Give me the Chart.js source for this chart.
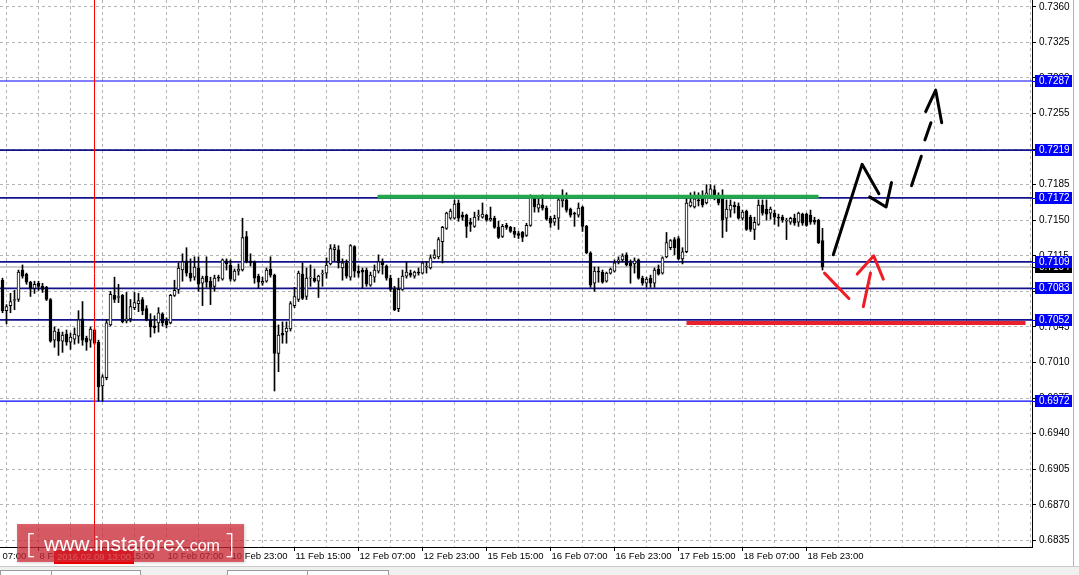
<!DOCTYPE html>
<html>
<head>
<meta charset="utf-8">
<script src="https://cdn.jsdelivr.net/npm/chart.js@4.4.1/dist/chart.umd.min.js"></script>
<style>
  html, body { margin: 0; padding: 0; background: #fff; overflow: hidden; }
  #wrap { width: 1079px; height: 575px; position: relative; }
</style>
</head>
<body>
<div id="wrap"><canvas id="chartAud" width="1079" height="575"></canvas></div>
<script>
// H1 bars, 8 Feb 14:00 .. 19 Feb 03:00 (one entry per bar)
const opens = [
  0.7091,0.7061,0.7066,0.7071,0.7072,0.7101,0.7097,0.7089,0.7083,0.7088,
  0.7085,0.7084,0.7072,0.7032,0.7040,0.7031,0.7038,0.7030,0.7033,0.7036,
  0.7053,0.7034,0.7032,0.7042,0.7030,0.6987,0.6995,0.7047,0.7076,0.7074,
  0.7076,0.7051,0.7053,0.7064,0.7068,0.7072,0.7063,0.7052,0.7046,0.7049,
  0.7058,0.7051,0.7049,0.7076,0.7082,0.7101,0.7110,0.7098,0.7094,0.7103,
  0.7088,0.7095,0.7090,0.7085,0.7094,0.7092,0.7110,0.7106,0.7091,0.7100,
  0.7101,0.7134,0.7110,0.7109,0.7095,0.7088,0.7090,0.7102,0.7096,0.7019,
  0.7039,0.7040,0.7043,0.7066,0.7072,0.7097,0.7075,0.7093,0.7093,0.7090,
  0.7097,0.7098,0.7107,0.7121,0.7121,0.7103,0.7108,0.7094,0.7124,0.7100,
  0.7101,0.7101,0.7086,0.7094,0.7100,0.7109,0.7105,0.7093,0.7082,0.7063,
  0.7082,0.7095,0.7098,0.7095,0.7099,0.7098,0.7104,0.7103,0.7113,0.7114,
  0.7129,0.7142,0.7152,0.7152,0.7167,0.7155,0.7155,0.7148,0.7144,0.7154,
  0.7153,0.7155,0.7150,0.7152,0.7143,0.7134,0.7145,0.7143,0.7139,0.7137,
  0.7138,0.7135,0.7145,0.7172,0.7162,0.7165,0.7162,0.7152,0.7148,0.7152,
  0.7169,0.7170,0.7161,0.7157,0.7155,0.7163,0.7144,0.7118,0.7088,0.7100,
  0.7099,0.7090,0.7098,0.7100,0.7110,0.7111,0.7116,0.7108,0.7107,0.7111,
  0.7093,0.7088,0.7093,0.7088,0.7102,0.7098,0.7114,0.7123,0.7131,0.7132,
  0.7112,0.7119,0.7164,0.7163,0.7170,0.7171,0.7167,0.7174,0.7180,0.7173,
  0.7173,0.7152,0.7160,0.7165,0.7164,0.7152,0.7159,0.7153,0.7141,0.7146,
  0.7165,0.7161,0.7157,0.7157,0.7153,0.7153,0.7149,0.7148,0.7152,0.7148,
  0.7156,0.7156,0.7155,0.7150,0.7150,0.7130
];
const highs = [
  0.7093,0.7067,0.7078,0.7081,0.7101,0.7106,0.7098,0.7090,0.7090,0.7090,
  0.7088,0.7085,0.7073,0.7045,0.7043,0.7040,0.7042,0.7039,0.7044,0.7061,
  0.7070,0.7036,0.7045,0.7043,0.7032,0.6998,0.7052,0.7080,0.7094,0.7087,
  0.7077,0.7079,0.7072,0.7079,0.7078,0.7074,0.7066,0.7058,0.7056,0.7064,
  0.7059,0.7054,0.7077,0.7091,0.7108,0.7117,0.7123,0.7112,0.7114,0.7114,
  0.7095,0.7114,0.7094,0.7096,0.7096,0.7112,0.7112,0.7111,0.7102,0.7107,
  0.7152,0.7139,0.7117,0.7110,0.7097,0.7094,0.7103,0.7114,0.7097,0.7047,
  0.7050,0.7050,0.7070,0.7084,0.7100,0.7108,0.7103,0.7106,0.7102,0.7096,
  0.7101,0.7113,0.7126,0.7126,0.7125,0.7112,0.7111,0.7126,0.7125,0.7105,
  0.7103,0.7103,0.7099,0.7106,0.7116,0.7112,0.7106,0.7096,0.7085,0.7093,
  0.7101,0.7109,0.7101,0.7100,0.7103,0.7109,0.7109,0.7116,0.7121,0.7133,
  0.7144,0.7158,0.7161,0.7170,0.7170,0.7158,0.7156,0.7152,0.7158,0.7160,
  0.7167,0.7156,0.7163,0.7154,0.7149,0.7146,0.7147,0.7144,0.7143,0.7139,
  0.7139,0.7147,0.7175,0.7174,0.7172,0.7175,0.7164,0.7154,0.7155,0.7172,
  0.7180,0.7177,0.7162,0.7158,0.7167,0.7164,0.7145,0.7119,0.7104,0.7104,
  0.7101,0.7099,0.7103,0.7111,0.7114,0.7117,0.7118,0.7111,0.7113,0.7112,
  0.7095,0.7094,0.7096,0.7103,0.7106,0.7114,0.7138,0.7131,0.7133,0.7134,
  0.7123,0.7172,0.7177,0.7178,0.7177,0.7179,0.7185,0.7185,0.7184,0.7177,
  0.7180,0.7170,0.7170,0.7168,0.7167,0.7160,0.7160,0.7155,0.7153,0.7170,
  0.7170,0.7170,0.7163,0.7160,0.7156,0.7155,0.7152,0.7153,0.7156,0.7158,
  0.7157,0.7157,0.7160,0.7153,0.7151,0.7142
];
const lows = [
  0.7059,0.7048,0.7059,0.7062,0.7070,0.7093,0.7087,0.7075,0.7078,0.7081,
  0.7079,0.7071,0.7030,0.7025,0.7017,0.7020,0.7027,0.7023,0.7028,0.7029,
  0.7027,0.7022,0.7025,0.7028,0.6972,0.6972,0.6993,0.7046,0.7069,0.7069,
  0.7049,0.7049,0.7050,0.7062,0.7060,0.7057,0.7051,0.7035,0.7039,0.7040,
  0.7046,0.7044,0.7048,0.7075,0.7078,0.7090,0.7095,0.7090,0.7091,0.7080,
  0.7066,0.7084,0.7067,0.7080,0.7090,0.7091,0.7101,0.7090,0.7090,0.7096,
  0.7100,0.7108,0.7105,0.7088,0.7083,0.7086,0.7089,0.7094,0.6982,0.7001,
  0.7029,0.7029,0.7041,0.7064,0.7070,0.7072,0.7072,0.7085,0.7089,0.7074,
  0.7085,0.7093,0.7106,0.7110,0.7103,0.7091,0.7093,0.7091,0.7094,0.7094,
  0.7083,0.7085,0.7085,0.7089,0.7098,0.7097,0.7091,0.7080,0.7061,0.7060,
  0.7081,0.7093,0.7094,0.7093,0.7096,0.7097,0.7098,0.7102,0.7112,0.7112,
  0.7108,0.7141,0.7151,0.7151,0.7149,0.7150,0.7133,0.7139,0.7143,0.7150,
  0.7152,0.7149,0.7149,0.7142,0.7132,0.7133,0.7141,0.7138,0.7133,0.7132,
  0.7129,0.7134,0.7144,0.7158,0.7158,0.7160,0.7150,0.7143,0.7145,0.7141,
  0.7163,0.7158,0.7153,0.7144,0.7153,0.7139,0.7117,0.7084,0.7080,0.7089,
  0.7088,0.7089,0.7097,0.7099,0.7107,0.7109,0.7105,0.7088,0.7098,0.7092,
  0.7086,0.7084,0.7084,0.7084,0.7096,0.7097,0.7113,0.7121,0.7116,0.7111,
  0.7107,0.7118,0.7163,0.7162,0.7164,0.7163,0.7166,0.7173,0.7170,0.7165,
  0.7133,0.7139,0.7153,0.7157,0.7151,0.7150,0.7140,0.7139,0.7131,0.7145,
  0.7155,0.7150,0.7151,0.7146,0.7144,0.7148,0.7131,0.7146,0.7145,0.7144,
  0.7145,0.7144,0.7146,0.7146,0.7127,0.7101
];
const closes = [
  0.7061,0.7065,0.7070,0.7072,0.7099,0.7095,0.7089,0.7083,0.7087,0.7085,
  0.7082,0.7072,0.7031,0.7041,0.7031,0.7037,0.7030,0.7035,0.7038,0.7052,
  0.7032,0.7030,0.7043,0.7029,0.6986,0.6996,0.7049,0.7077,0.7072,0.7075,
  0.7050,0.7053,0.7065,0.7069,0.7071,0.7061,0.7052,0.7045,0.7044,0.7059,
  0.7049,0.7047,0.7076,0.7081,0.7103,0.7109,0.7098,0.7093,0.7104,0.7087,
  0.7093,0.7089,0.7084,0.7093,0.7093,0.7111,0.7107,0.7092,0.7100,0.7102,
  0.7133,0.7109,0.7108,0.7093,0.7089,0.7090,0.7101,0.7096,0.7019,0.7037,
  0.7037,0.7044,0.7068,0.7075,0.7098,0.7073,0.7093,0.7094,0.7090,0.7095,
  0.7098,0.7106,0.7122,0.7123,0.7108,0.7108,0.7095,0.7125,0.7100,0.7098,
  0.7099,0.7087,0.7096,0.7101,0.7109,0.7106,0.7093,0.7082,0.7062,0.7082,
  0.7095,0.7099,0.7096,0.7099,0.7098,0.7108,0.7105,0.7113,0.7116,0.7131,
  0.7143,0.7157,0.7159,0.7166,0.7152,0.7153,0.7144,0.7146,0.7153,0.7155,
  0.7156,0.7150,0.7152,0.7143,0.7133,0.7144,0.7143,0.7139,0.7136,0.7135,
  0.7133,0.7145,0.7173,0.7163,0.7166,0.7162,0.7151,0.7147,0.7152,0.7170,
  0.7171,0.7160,0.7155,0.7156,0.7162,0.7144,0.7118,0.7086,0.7100,0.7099,
  0.7089,0.7098,0.7102,0.7108,0.7111,0.7115,0.7106,0.7105,0.7110,0.7093,
  0.7088,0.7092,0.7088,0.7101,0.7097,0.7113,0.7128,0.7130,0.7123,0.7112,
  0.7119,0.7167,0.7168,0.7171,0.7169,0.7165,0.7177,0.7181,0.7172,0.7167,
  0.7150,0.7161,0.7165,0.7163,0.7152,0.7158,0.7141,0.7141,0.7148,0.7165,
  0.7157,0.7156,0.7161,0.7153,0.7152,0.7150,0.7150,0.7152,0.7147,0.7157,
  0.7147,0.7145,0.7148,0.7148,0.7128,0.7104
];

// time axis labels and the bar they sit on
const labelBars = [-7, 9, 25, 41, 57, 73, 89, 105, 121, 137, 153, 169, 185, 201];
const timeLabels = ["8 Feb 07:00", "8 Feb 23:00", "9 Feb 15:00", "10 Feb 07:00", "10 Feb 23:00",
  "11 Feb 15:00", "12 Feb 07:00", "12 Feb 23:00", "15 Feb 15:00", "16 Feb 07:00",
  "16 Feb 23:00", "17 Feb 15:00", "18 Feb 07:00", "18 Feb 23:00"];

// price axis
const priceTicks = [0.6835, 0.6870, 0.6905, 0.6940, 0.6975, 0.7010, 0.7045, 0.7080,
  0.7115, 0.7150, 0.7185, 0.7220, 0.7255, 0.7290, 0.7325, 0.7360];
const levelPrices = [0.7287, 0.7219, 0.7172, 0.7109, 0.7083, 0.7052, 0.6972];
const currentPrice = 0.7104;
const markedBar = 23;             // 2016.02.09 13:00
const markedLabel = "2016.02.09 13:00";

// drawn analysis marks: [bar, price]
const resistanceLine = [[93.75, 0.7173], [204, 0.7173]];
const supportLine = [[171, 0.7049], [255.75, 0.7049]];
const blackPathA = [[207.7, 0.7116], [214.9, 0.7205], [219.1, 0.7176]];
const blackPathB = [[216.8, 0.7173], [220.9, 0.7163], [222.25, 0.7187]];
const blackDash1 = [[227.25, 0.7184], [229.7, 0.7213]];
const blackDash2 = [[230.6, 0.7229], [232.1, 0.7246]];
const blackHead = [[230.8, 0.7257], [233.3, 0.7278], [234.8, 0.7246]];
const redPathA = [[205.5, 0.7098], [211.6, 0.7073]];
const redPathB = [[215.2, 0.7065], [217, 0.7098]];
const redHead = [[213.7, 0.7097], [217.8, 0.7115], [220.2, 0.7092]];

const X_MIN = -0.625, X_MAX = 257.375;
const Y_MIN = 0.68285, Y_MAX = 0.73667;
const FONT_Y = { family: "'Liberation Sans', Arial, sans-serif", size: 10 };
const FONT_X = { family: "'Liberation Sans', Arial, sans-serif", size: 9.5 };

const toPts = arr => arr.map(p => ({ x: p[0], y: p[1] }));

function stroke(points, color, width) {
  return {
    type: "line", data: toPts(points), borderColor: color, borderWidth: width,
    pointRadius: 0, fill: false, tension: 0, order: 0,
    borderCapStyle: "round", borderJoinStyle: "round"
  };
}

const levelSets = levelPrices.map((p, k) => ({
  type: "line",
  data: [{ x: X_MIN, y: p }, { x: X_MAX, y: p }],
  borderColor: (k === 0 || k === levelPrices.length - 1) ? "#0000ff" : "#12128a",
  borderWidth: (k === 0 || k === levelPrices.length - 1) ? 1.2 : 1.7,
  pointRadius: 0, fill: false, order: 4
}));

const bodies = closes.map((c, i) => ({ x: i, y: [opens[i], c] }));
const wicks = highs.map((h, i) => ({ x: i, y: [lows[i], h] }));

const overlay = {
  id: "overlay",
  afterDraw(chart) {
    const ctx = chart.ctx;
    const ys = chart.scales.y;
    const xs = chart.scales.x;
    const fontStr = "10px 'Liberation Sans', Arial, sans-serif";

    function tag(price, bg, line) {
      const y = Math.round(ys.getPixelForValue(price));
      ctx.fillStyle = line;
      ctx.fillRect(ys.left, y, 4, 1);
      ctx.fillStyle = bg;
      ctx.fillRect(ys.left + 3, y - 6, 37, 12);
      ctx.fillStyle = "#ffffff";
      ctx.font = fontStr;
      ctx.textBaseline = "middle";
      ctx.textAlign = "left";
      ctx.fillText(price.toFixed(4), ys.left + 7, y + 0.5);
    }
    ctx.save();
    tag(currentPrice, "#000000", "#000000");
    levelPrices.forEach(p => tag(p, "#0000ff", "#0000ff"));

    // date tag of the vertical line
    const vx = Math.round(xs.getPixelForValue(markedBar));
    ctx.fillStyle = "#ff0000";
    ctx.fillRect(vx - 41, 550, 80, 14);
    ctx.fillStyle = "#ffffff";
    ctx.font = "9.5px 'Liberation Sans', Arial, sans-serif";
    ctx.textBaseline = "middle";
    ctx.fillText(markedLabel, vx - 38, 557.5);

    // watermark
    ctx.shadowColor = "rgba(0,0,0,0.25)";
    ctx.shadowBlur = 3;
    ctx.shadowOffsetX = 1;
    ctx.shadowOffsetY = 1;
    ctx.fillStyle = "rgba(214, 42, 54, 0.72)";
    ctx.fillRect(17, 524, 227, 38);
    ctx.shadowColor = "transparent";
    ctx.fillStyle = "#ffffff";
    ctx.textBaseline = "alphabetic";
    ctx.font = "300 27px 'Open Sans', 'Liberation Sans', sans-serif";
    ctx.fillText("[", 26, 553);
    ctx.font = "21px 'Liberation Sans', Arial, sans-serif";
    ctx.fillText("www.instaforex", 44, 551);
    const w1 = ctx.measureText("www.instaforex").width;
    ctx.font = "16px 'Liberation Sans', Arial, sans-serif";
    ctx.fillText(".com", 44 + w1, 551);
    ctx.font = "300 27px 'Open Sans', 'Liberation Sans', sans-serif";
    ctx.fillText("]", 226, 553);

    // terminal tabs strip
    ctx.fillStyle = "#f0f0f0";
    ctx.fillRect(0, 566, 1079, 9);
    ctx.fillStyle = "#c8c8c8";
    ctx.fillRect(0, 566, 1079, 1);
    ctx.strokeStyle = "#9a9a9a";
    ctx.lineWidth = 1;
    [[0, 51], [51, 140], [227, 307], [307, 388]].forEach(t => {
      ctx.fillStyle = "#ffffff";
      ctx.fillRect(t[0], 570, t[1] - t[0], 5);
      ctx.strokeRect(t[0] + 0.5, 570.5, t[1] - t[0], 6);
    });

    // neighbouring window edge
    ctx.fillStyle = "#b4b4b4";
    ctx.fillRect(1073, 0, 1, 566);
    ctx.restore();
  }
};

new Chart(document.getElementById("chartAud"), {
  type: "bar",
  data: {
    datasets: [
      stroke(blackPathA, "#000000", 3),
      stroke(blackPathB, "#000000", 3),
      stroke(blackDash1, "#000000", 3),
      stroke(blackDash2, "#000000", 3),
      stroke(blackHead, "#000000", 3),
      stroke(redPathA, "#ee1c25", 3),
      stroke(redPathB, "#ee1c25", 3),
      stroke(redHead, "#ee1c25", 3),
      Object.assign(stroke(resistanceLine, "#22a84a", 4), { borderCapStyle: "butt" }),
      Object.assign(stroke(supportLine, "#e8232b", 4), { borderCapStyle: "butt" }),
      {
        type: "line",
        data: [{ x: markedBar, y: Y_MIN }, { x: markedBar, y: Y_MAX }],
        borderColor: "#ff0000", borderWidth: 1, pointRadius: 0, order: 0
      },
      {
        type: "bar", data: bodies, order: 1, grouped: false,
        barThickness: 3, minBarLength: 1, borderSkipped: false,
        backgroundColor: closes.map((c, i) => c >= opens[i] ? "#ffffff" : "#000000"),
        borderColor: "#000000", borderWidth: 1
      },
      {
        type: "bar", data: wicks, order: 2, grouped: false,
        barThickness: 1, backgroundColor: "#000000", borderWidth: 0
      },
      {
        type: "line",
        data: [{ x: X_MIN, y: currentPrice }, { x: X_MAX, y: currentPrice }],
        borderColor: "#bdbdbd", borderWidth: 1.6, pointRadius: 0, order: 5
      },
      ...levelSets
    ]
  },
  options: {
    responsive: false,
    animation: false,
    events: [],
    layout: { padding: 0 },
    plugins: { legend: { display: false }, tooltip: { enabled: false } },
    scales: {
      x: {
        type: "linear", position: "bottom", min: X_MIN, max: X_MAX,
        offset: false,
        afterBuildTicks: scale => {
          const t = [{ value: labelBars[0] }];
          for (let v = 1; v <= 257; v += 8) t.push({ value: v });
          scale.ticks = t;
        },
        afterFit: scale => {
          scale.height = 28;
          scale.paddingLeft = 0;
          scale.paddingRight = 0;
        },
        grid: {
          offset: false, color: "#b4b4b4", lineWidth: 1,
          drawTicks: true, tickLength: 4, tickWidth: 1,
          tickColor: c => labelBars.includes(c.tick && c.tick.value) ? "#000000" : "rgba(0,0,0,0)"
        },
        border: { display: true, color: "#000000", width: 1, dash: [3, 3] },
        ticks: {
          autoSkip: false, maxRotation: 0, minRotation: 0,
          align: "start", labelOffset: 1, padding: 0,
          color: "#000000", font: FONT_X,
          callback: v => {
            const k = labelBars.indexOf(v);
            return k >= 0 ? timeLabels[k] : "";
          }
        }
      },
      y: {
        type: "linear", position: "right", min: Y_MIN, max: Y_MAX,
        afterBuildTicks: scale => { scale.ticks = priceTicks.map(v => ({ value: v })); },
        afterFit: scale => {
          scale.width = 47;
          scale.paddingTop = 0;
          scale.paddingBottom = 0;
        },
        grid: {
          color: "#b4b4b4", lineWidth: 1, drawTicks: true,
          tickLength: 4, tickWidth: 1, tickColor: "#000000"
        },
        border: { display: true, color: "#000000", width: 1, dash: [3, 3] },
        ticks: {
          padding: 3, color: "#000000", font: FONT_Y,
          callback: v => v.toFixed(4)
        }
      }
    }
  },
  plugins: [overlay]
});
</script>
</body>
</html>
